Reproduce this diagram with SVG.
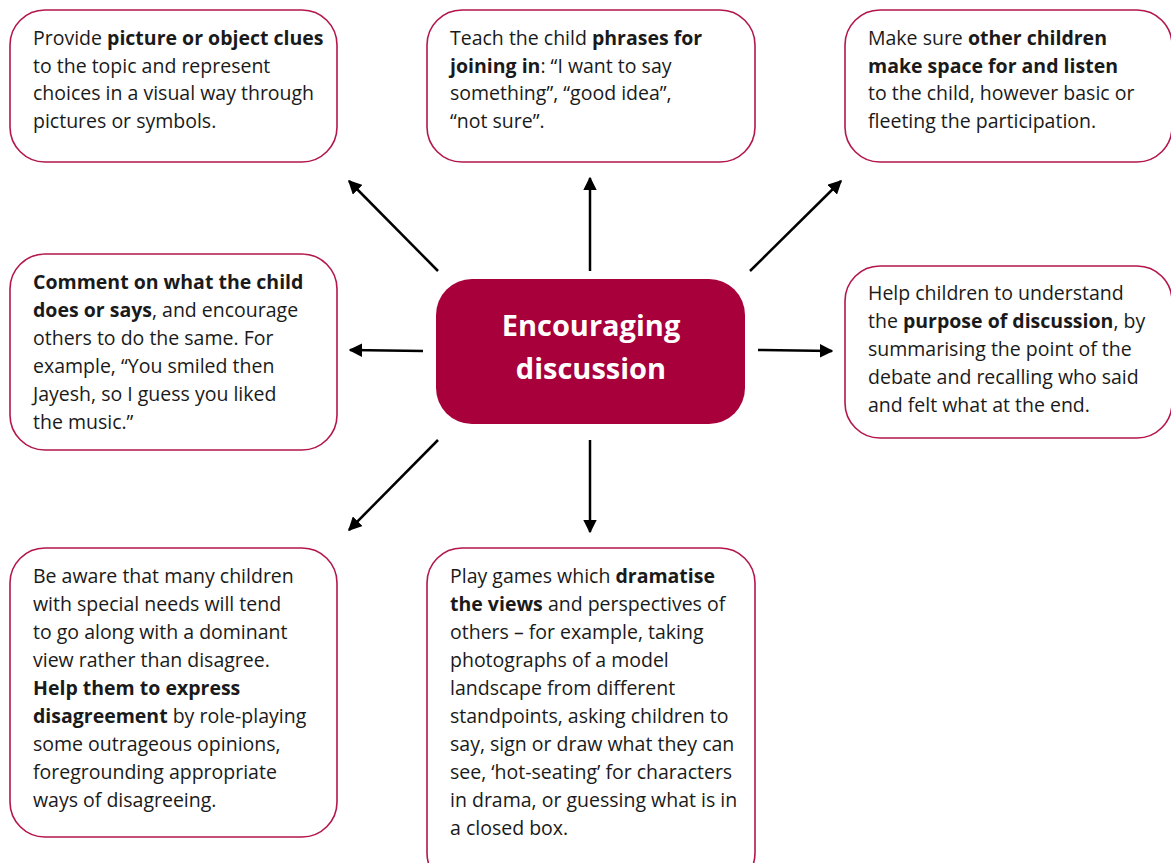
<svg xmlns="http://www.w3.org/2000/svg" width="1171" height="863" viewBox="0 0 1171 863">
<style>
.box{fill:#fff;stroke:#B3174B;stroke-width:1.6}
.t{font-family:"Open Sans","Noto Sans",sans-serif;font-size:19.5px;fill:#1a1a1a}
.b{font-weight:bold}
.c{font-family:"Open Sans","Noto Sans",sans-serif;font-size:29px;font-weight:bold;fill:#fff;text-anchor:middle}
.a{stroke:#000;stroke-width:2.5;fill:none;marker-end:url(#ah)}
</style>
<defs>
<marker id="ah" viewBox="0 0 10 10" refX="9" refY="5" markerWidth="5.5" markerHeight="5.5" orient="auto" markerUnits="strokeWidth">
<path d="M0,0 L10,5 L0,10 z" fill="#000"/>
</marker>
</defs>
<rect width="1171" height="863" fill="#fff"/>
<g id="connectors">
<line class="a" x1="438" y1="271" x2="349" y2="181"/>
<line class="a" x1="590" y1="271" x2="590" y2="178"/>
<line class="a" x1="750" y1="271" x2="841" y2="181"/>
<line class="a" x1="423" y1="351" x2="350" y2="350"/>
<line class="a" x1="758" y1="350" x2="832" y2="351"/>
<line class="a" x1="438" y1="440" x2="349" y2="530"/>
<line class="a" x1="590" y1="440" x2="590" y2="532"/>
</g>
<g id="center">
<rect x="436" y="279" width="309" height="145" rx="36" fill="#A8003B"/>
<text class="c" x="591" y="336">Encouraging</text>
<text class="c" x="591" y="379">discussion</text>
</g>
<g id="n1">
<rect class="box" x="10" y="10" width="327" height="152" rx="35"/>
<text class="t"><tspan x="33" y="45">Provide <tspan class="b">picture or object clues</tspan></tspan><tspan x="33" y="73">to the topic and represent</tspan><tspan x="33" y="100">choices in a visual way through</tspan><tspan x="33" y="128">pictures or symbols.</tspan></text>
</g>
<g id="n2">
<rect class="box" x="427" y="10" width="328" height="152" rx="35"/>
<text class="t"><tspan x="450" y="45">Teach the child <tspan class="b">phrases for</tspan></tspan><tspan x="450" y="73"><tspan class="b">joining in</tspan>: “I want to say</tspan><tspan x="450" y="100">something”, “good idea”,</tspan><tspan x="450" y="128">“not sure”.</tspan></text>
</g>
<g id="n3">
<rect class="box" x="845" y="10" width="327" height="152" rx="35"/>
<text class="t"><tspan x="868" y="45">Make sure <tspan class="b">other children</tspan></tspan><tspan x="868" y="73" class="b">make space for and listen</tspan><tspan x="868" y="100">to the child, however basic or</tspan><tspan x="868" y="128">fleeting the participation.</tspan></text>
</g>
<g id="n4">
<rect class="box" x="10" y="254" width="327" height="196" rx="35"/>
<text class="t"><tspan x="33" y="289" class="b">Comment on what the child</tspan><tspan x="33" y="317"><tspan class="b">does or says</tspan>, and encourage</tspan><tspan x="33" y="345">others to do the same. For</tspan><tspan x="33" y="373">example, “You smiled then</tspan><tspan x="33" y="401">Jayesh, so I guess you liked</tspan><tspan x="33" y="429">the music.”</tspan></text>
</g>
<g id="n5">
<rect class="box" x="845" y="266" width="327" height="172" rx="35"/>
<text class="t"><tspan x="868" y="300">Help children to understand</tspan><tspan x="868" y="328">the <tspan class="b">purpose of discussion</tspan>, by</tspan><tspan x="868" y="356">summarising the point of the</tspan><tspan x="868" y="384">debate and recalling who said</tspan><tspan x="868" y="412">and felt what at the end.</tspan></text>
</g>
<g id="n6">
<rect class="box" x="10" y="548" width="327" height="289" rx="35"/>
<text class="t"><tspan x="33" y="583">Be aware that many children</tspan><tspan x="33" y="611">with special needs will tend</tspan><tspan x="33" y="639">to go along with a dominant</tspan><tspan x="33" y="667">view rather than disagree.</tspan><tspan x="33" y="695" class="b">Help them to express</tspan><tspan x="33" y="723"><tspan class="b">disagreement</tspan> by role-playing</tspan><tspan x="33" y="751">some outrageous opinions,</tspan><tspan x="33" y="779">foregrounding appropriate</tspan><tspan x="33" y="807">ways of disagreeing.</tspan></text>
</g>
<g id="n7">
<rect class="box" x="427" y="548" width="328" height="340" rx="35"/>
<text class="t"><tspan x="450" y="583">Play games which <tspan class="b">dramatise</tspan></tspan><tspan x="450" y="611"><tspan class="b">the views</tspan> and perspectives of</tspan><tspan x="450" y="639">others – for example, taking</tspan><tspan x="450" y="667">photographs of a model</tspan><tspan x="450" y="695">landscape from different</tspan><tspan x="450" y="723">standpoints, asking children to</tspan><tspan x="450" y="751">say, sign or draw what they can</tspan><tspan x="450" y="779">see, ‘hot-seating’ for characters</tspan><tspan x="450" y="807">in drama, or guessing what is in</tspan><tspan x="450" y="835">a closed box.</tspan></text>
</g>
</svg>
